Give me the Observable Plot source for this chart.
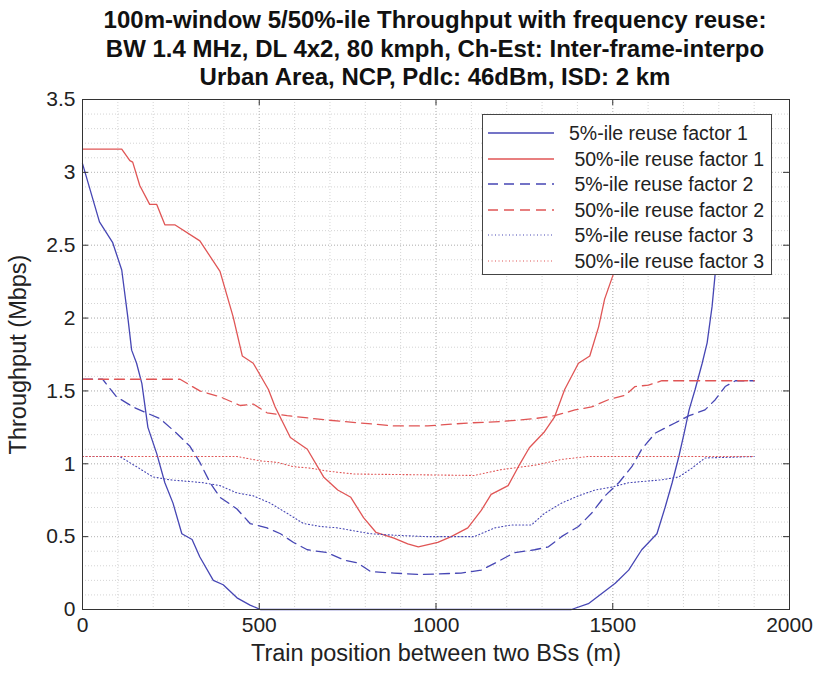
<!DOCTYPE html>
<html>
<head>
<meta charset="utf-8">
<script src="https://cdn.jsdelivr.net/npm/d3@7"></script>
<script src="https://cdn.jsdelivr.net/npm/@observablehq/plot@0.6"></script>
<style>
  body { margin: 0; background: #fff; font-family: "Liberation Sans", Arial, sans-serif; }
  #wrap { position: relative; width: 816px; height: 678px; }
  #title { position: absolute; left: 0; top: 6px; width: 870px; text-align: center; font-weight: bold; font-size: 24px; line-height: 28.5px; color: #111; }
  #chart { position: absolute; left: 0; top: 90px; }
  #legend { position: absolute; left: 482px; top: 114px; width: 290px; height: 161px; box-sizing: border-box; border: 1px solid #444; background: #fff; padding-top: 5px; }
  .row { position: relative; height: 25.5px; }
  .row svg { position: absolute; left: 5px; top: 0; }
  .row span { position: absolute; top: 1px; font-size: 19.5px; line-height: 25px; color: #222; white-space: pre; }
</style>
</head>
<body>
<div id="wrap">
  <div id="title">100m-window 5/50%-ile Throughput with frequency reuse:<br>BW 1.4 MHz, DL 4x2, 80 kmph, Ch-Est: Inter-frame-interpo<br>Urban Area, NCP, Pdlc: 46dBm, ISD: 2 km</div>
  <div id="chart"></div>
  <div id="legend"></div>
</div>
<script>
// ---- data ----
const xTicks = [0, 500, 1000, 1500, 2000];
const yTicks = [0, 0.5, 1, 1.5, 2, 2.5, 3, 3.5];
const xMinor = d3.range(0, 2001, 100);
const yMinor = d3.range(0, 36, 1).map(d => d / 10);

const seriesNames = ["5%-ile reuse factor 1", " 50%-ile reuse factor 1", " 5%-ile reuse factor 2", " 50%-ile reuse factor 2", " 5%-ile reuse factor 3", " 50%-ile reuse factor 3"];

const b1x = [0, 48, 85, 111, 128, 139, 153, 168, 185, 210, 233, 256, 281, 310, 332, 370, 398, 437, 474, 503, 1383, 1431, 1469, 1507, 1545, 1582, 1625, 1648, 1668, 1687, 1702, 1716, 1733, 1753, 1767, 1781, 1790, 1830, 1870, 1900];
const b1y = [3.06, 2.66, 2.52, 2.33, 2.01, 1.78, 1.69, 1.55, 1.25, 1.07, 0.87, 0.73, 0.52, 0.48, 0.36, 0.20, 0.17, 0.08, 0.03, 0, 0, 0.04, 0.11, 0.18, 0.27, 0.41, 0.52, 0.70, 0.87, 1.05, 1.21, 1.37, 1.51, 1.69, 1.83, 2.08, 2.31, 2.65, 2.90, 3.06];

const r1x = [0, 111, 134, 142, 162, 190, 210, 233, 261, 332, 389, 426, 452, 483, 526, 545, 588, 636, 682, 722, 759, 795, 830, 881, 920, 950, 1005, 1043, 1090, 1128, 1156, 1204, 1233, 1264, 1307, 1335, 1364, 1403, 1435, 1460, 1477, 1503, 1550, 1600, 1650, 1700, 1760, 1800, 1900];
const r1y = [3.16, 3.16, 3.08, 3.07, 2.91, 2.78, 2.78, 2.64, 2.64, 2.53, 2.32, 2.01, 1.74, 1.69, 1.51, 1.39, 1.18, 1.10, 0.91, 0.82, 0.77, 0.63, 0.53, 0.49, 0.45, 0.43, 0.46, 0.50, 0.56, 0.68, 0.79, 0.85, 0.98, 1.11, 1.22, 1.32, 1.51, 1.69, 1.74, 1.94, 2.13, 2.31, 2.50, 2.64, 2.78, 2.95, 3.08, 3.16, 3.16];

const b2x = [0, 57, 96, 143, 190, 219, 266, 304, 332, 361, 389, 437, 474, 522, 560, 597, 636, 693, 739, 778, 815, 881, 957, 1071, 1128, 1176, 1222, 1279, 1318, 1355, 1403, 1440, 1478, 1517, 1554, 1582, 1620, 1676, 1716, 1761, 1790, 1818, 1847, 1900];
const b2y = [1.58, 1.58, 1.46, 1.39, 1.34, 1.31, 1.21, 1.12, 1.01, 0.87, 0.77, 0.69, 0.59, 0.56, 0.52, 0.46, 0.41, 0.39, 0.34, 0.32, 0.26, 0.25, 0.24, 0.25, 0.27, 0.33, 0.39, 0.41, 0.43, 0.50, 0.57, 0.66, 0.78, 0.87, 0.98, 1.10, 1.21, 1.28, 1.33, 1.37, 1.44, 1.53, 1.57, 1.57];

const r2x = [0, 276, 332, 389, 446, 483, 522, 579, 693, 787, 881, 977, 1090, 1185, 1279, 1336, 1393, 1440, 1488, 1535, 1563, 1601, 1639, 1900];
const r2y = [1.58, 1.58, 1.50, 1.46, 1.40, 1.41, 1.35, 1.33, 1.30, 1.28, 1.26, 1.26, 1.28, 1.29, 1.31, 1.33, 1.37, 1.39, 1.44, 1.47, 1.53, 1.54, 1.57, 1.57];

const b3x = [0, 105, 153, 199, 247, 295, 341, 389, 437, 483, 531, 579, 625, 673, 722, 767, 815, 881, 977, 1108, 1166, 1213, 1270, 1307, 1355, 1403, 1450, 1497, 1545, 1591, 1639, 1687, 1724, 1761, 1900];
const b3y = [1.05, 1.05, 0.98, 0.91, 0.89, 0.88, 0.87, 0.85, 0.80, 0.78, 0.73, 0.66, 0.59, 0.57, 0.56, 0.54, 0.52, 0.51, 0.50, 0.50, 0.56, 0.58, 0.58, 0.66, 0.73, 0.78, 0.82, 0.84, 0.87, 0.88, 0.89, 0.91, 0.97, 1.04, 1.05];

const r3x = [0, 437, 503, 551, 597, 645, 693, 767, 1108, 1185, 1279, 1355, 1431, 1900];
const r3y = [1.05, 1.05, 1.02, 1.01, 0.98, 0.97, 0.95, 0.93, 0.92, 0.96, 0.99, 1.03, 1.05, 1.05];

// ---- styles ----
const BLUE = "#4646b4";
const RED = "#e05555";
const styles = [
  {stroke: BLUE, dash: null, width: 1.3},
  {stroke: RED, dash: null, width: 1.3},
  {stroke: BLUE, dash: "10,6", width: 1.3},
  {stroke: RED, dash: "10,6", width: 1.3},
  {stroke: BLUE, dash: "1,2.5", width: 1.1},
  {stroke: RED, dash: "1,2.5", width: 1.1}
];
const series = [[b1x, b1y], [r1x, r1y], [b2x, b2y], [r2x, r2y], [b3x, b3y], [r3x, r3y]]
  .map(([xs, ys], i) => xs.map((x, j) => ({x, y: ys[j], i})));

const W = 816, H = 588;
const mL = 82, mR = 27, mT = 9, mB = 69;
const fw = W - mL - mR, fh = H - mT - mB;

const chart = Plot.plot({
  width: W, height: H,
  marginLeft: mL, marginRight: mR, marginTop: mT, marginBottom: mB,
  style: {fontFamily: "Liberation Sans, Arial, sans-serif", fontSize: "21px", color: "#222", background: "#fff", overflow: "visible"},
  x: {domain: [0, 2000]},
  y: {domain: [0, 3.5]},
  marks: [
    Plot.ruleX(xMinor, {x: d => d, stroke: "#d4d4d4", strokeDasharray: "1,2", strokeWidth: 1}),
    Plot.ruleY(yMinor, {y: d => d, stroke: "#d4d4d4", strokeDasharray: "1,2", strokeWidth: 1}),
    Plot.ruleX(xTicks, {x: d => d, stroke: "#bdbdbd", strokeDasharray: "1,2", strokeWidth: 1}),
    Plot.ruleY(yTicks, {y: d => d, stroke: "#bdbdbd", strokeDasharray: "1,2", strokeWidth: 1}),
    ...series.map((s, i) => Plot.line(s, {x: "x", y: "y", stroke: styles[i].stroke, strokeWidth: styles[i].width, strokeDasharray: styles[i].dash})),
    Plot.frame({stroke: "#333", strokeWidth: 1}),
    Plot.tickX(xTicks, {x: d => d, stroke: "#333", insetTop: fh - 6}),
    Plot.tickX(xTicks, {x: d => d, stroke: "#333", insetBottom: fh - 6}),
    Plot.tickY(yTicks, {y: d => d, stroke: "#333", insetRight: fw - 6}),
    Plot.tickY(yTicks, {y: d => d, stroke: "#333", insetLeft: fw - 6}),
    Plot.axisX(xTicks, {tickSize: 0, tickPadding: 8, tickFormat: d => String(d), label: null}),
    Plot.axisX({tickSize: 0, ticks: [], label: "Train position between two BSs (m)", labelAnchor: "center", labelOffset: 51, labelArrow: "none", fontSize: "23.5px"}),
    Plot.axisY(yTicks, {tickSize: 0, tickPadding: 7, tickFormat: d => String(d), label: null}),
    Plot.axisY({tickSize: 0, ticks: [], label: "Throughput (Mbps)", labelAnchor: "center", labelOffset: 73, labelArrow: "none", fontSize: "23.5px"})
  ]
});
document.getElementById("chart").appendChild(chart);

// ---- legend overlay ----
const leg = document.getElementById("legend");
seriesNames.forEach((name, i) => {
  const row = document.createElement("div");
  row.className = "row";
  const st = styles[i];
  row.innerHTML = `<svg width="66" height="25"><line x1="0" x2="66" y1="13" y2="13" stroke="${st.stroke}" stroke-width="${st.width}" ${st.dash ? `stroke-dasharray="${st.dash}"` : ""}/></svg>`;
  const sp = document.createElement("span");
  sp.style.left = "86px";
  sp.textContent = name;
  row.appendChild(sp);
  leg.appendChild(row);
});
</script>
</body>
</html>
